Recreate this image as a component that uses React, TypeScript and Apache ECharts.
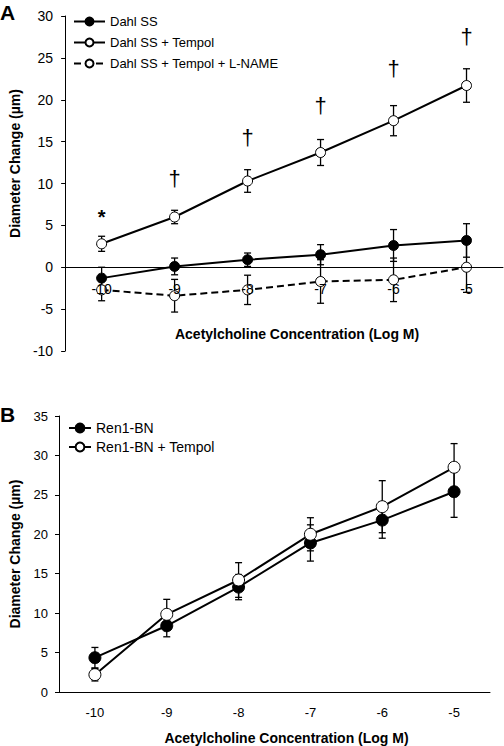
import React, { useEffect, useRef } from "react";
import * as echarts from "echarts";

const concentrations = ["-10", "-9", "-8", "-7", "-6", "-5"];

// Panel A
const dahlSS = [-1.3, 0.1, 0.9, 1.5, 2.6, 3.2];
const dahlSSErr = [1.3, 1.0, 0.8, 1.2, 1.9, 2.0];
const dahlTempol = [2.8, 6.0, 10.3, 13.7, 17.5, 21.7];
const dahlTempolErr = [0.9, 0.8, 1.35, 1.55, 1.8, 2.0];
const dahlLName = [-2.7, -3.4, -2.7, -1.7, -1.5, 0.0];
const dahlLNameErr = [1.3, 1.95, 1.75, 2.6, 2.6, 3.0];
const sigMarks = ["*", "†", "†", "†", "†", "†"];
const sigMarkY = [6.3, 10.6, 15.5, 19.3, 23.7, 27.5];

// Panel B
const ren1 = [4.35, 8.4, 13.3, 18.9, 21.8, 25.4];
const ren1Err = [1.3, 1.4, 1.6, 2.3, 2.3, 3.25];
const ren1Tempol = [2.2, 9.85, 14.2, 20.0, 23.5, 28.5];
const ren1TempolErr = [0.8, 1.9, 2.2, 2.1, 3.3, 3.0];

const FONT = 'Arial, "Liberation Sans", sans-serif';

const A_MIN = -10;
const A_MAX = 30;
const A_HEIGHT = 335;

function errData(vals: number[], errs: number[]) {
  return vals.map((v, i) => [i, v - errs[i], v + errs[i]]);
}

function errSeries(vals: number[], errs: number[], axis: number) {
  return {
    type: "custom",
    xAxisIndex: axis,
    yAxisIndex: axis,
    z: 1,
    silent: true,
    data: errData(vals, errs),
    encode: { x: 0, y: [1, 2] },
    renderItem: (params: any, api: any) => {
      const idx = api.value(0);
      const lo = api.coord([idx, api.value(1)]);
      const hi = api.coord([idx, api.value(2)]);
      const w = 3.5;
      const st = { stroke: "#000", lineWidth: 1.3 };
      return {
        type: "group",
        children: [
          { type: "line", shape: { x1: lo[0], y1: lo[1], x2: hi[0], y2: hi[1] }, style: st },
          { type: "line", shape: { x1: lo[0] - w, y1: lo[1], x2: lo[0] + w, y2: lo[1] }, style: st },
          { type: "line", shape: { x1: hi[0] - w, y1: hi[1], x2: hi[0] + w, y2: hi[1] }, style: st },
        ],
      };
    },
  };
}

function lineSeries(name: string, data: number[], axis: number, filled: boolean, dashed: boolean, size: number) {
  return {
    name,
    type: "line",
    xAxisIndex: axis,
    yAxisIndex: axis,
    data,
    z: 3,
    symbol: "circle",
    symbolSize: size,
    lineStyle: { color: "#000", width: 2, type: dashed ? [7, 4] : "solid" },
    itemStyle: { color: filled ? "#000" : "#fff", borderColor: "#000", borderWidth: 1 },
  };
}

export default function App() {
  const ref = useRef<HTMLDivElement>(null);
  useEffect(() => {
    if (!ref.current) return;
    const chart = echarts.init(ref.current, null, { renderer: "svg" });
    const axisLine = { lineStyle: { color: "#000", width: 1 } };
    const axisTick = { lineStyle: { color: "#000" }, length: 5 };
    // shift x axis of panel A up to y = 0
    const zeroOffset = -((0 - A_MIN) / (A_MAX - A_MIN)) * A_HEIGHT;
    chart.setOption({
      animation: false,
      textStyle: { fontFamily: FONT, color: "#000" },
      grid: [
        { left: 57, top: 16, width: 446, height: A_HEIGHT },
        { left: 54, top: 416, width: 436, height: 276 },
      ],
      legend: [
        {
          left: 68,
          top: 10,
          orient: "vertical",
          itemWidth: 31,
          itemHeight: 10,
          itemGap: 8,
          data: ["Dahl SS", "Dahl SS + Tempol", "Dahl SS + Tempol + L-NAME"],
          textStyle: { fontSize: 13, color: "#000", fontFamily: FONT },
        },
        {
          left: 63,
          top: 416,
          orient: "vertical",
          itemWidth: 22,
          itemHeight: 11,
          itemGap: 5,
          data: ["Ren1-BN", "Ren1-BN + Tempol"],
          textStyle: { fontSize: 14, color: "#000", fontFamily: FONT },
        },
      ],
      xAxis: [
        {
          type: "category",
          gridIndex: 0,
          data: concentrations,
          offset: zeroOffset,
          z: 10,
          axisLine: { ...axisLine, onZero: false },
          axisTick,
          axisLabel: { fontSize: 14, color: "#000", margin: 15 },
          name: "Acetylcholine Concentration (Log M)",
          nameLocation: "middle",
          nameGap: 60,
          nameTextStyle: { fontSize: 14, fontWeight: "bold", color: "#000", padding: [0, 0, 0, 26] },
        },
        {
          type: "category",
          gridIndex: 1,
          data: concentrations,
          axisLine,
          axisTick,
          axisLabel: { fontSize: 13, color: "#000", margin: 14 },
          name: "Acetylcholine Concentration (Log M)",
          nameLocation: "middle",
          nameGap: 39,
          nameTextStyle: { fontSize: 14, fontWeight: "bold", color: "#000", padding: [0, 0, 0, 24] },
        },
      ],
      yAxis: [
        {
          type: "value",
          gridIndex: 0,
          min: A_MIN,
          max: A_MAX,
          interval: 5,
          axisLine: { show: true, ...axisLine },
          axisTick: { show: true, ...axisTick, length: 4 },
          splitLine: { show: false },
          axisLabel: { fontSize: 14, color: "#000", margin: 12 },
          name: "Diameter Change (µm)",
          nameLocation: "middle",
          nameGap: 37,
          nameTextStyle: { fontSize: 14, fontWeight: "bold", color: "#000", padding: [0, 0, 0, 40] },
        },
        {
          type: "value",
          gridIndex: 1,
          min: 0,
          max: 35,
          interval: 5,
          axisLine: { show: true, ...axisLine },
          axisTick: { show: true, ...axisTick, length: 4 },
          splitLine: { show: false },
          axisLabel: { fontSize: 13, color: "#000", margin: 11 },
          name: "Diameter Change (µm)",
          nameLocation: "middle",
          nameGap: 37,
          nameTextStyle: { fontSize: 14, fontWeight: "bold", color: "#000" },
        },
      ],
      graphic: [
        { type: "text", left: 0, top: 2, style: { text: "A", font: `bold 21px ${FONT}`, fill: "#000" } },
        { type: "text", left: 0, top: 404, style: { text: "B", font: `bold 21px ${FONT}`, fill: "#000" } },
      ],
      series: [
        errSeries(dahlSS, dahlSSErr, 0),
        errSeries(dahlTempol, dahlTempolErr, 0),
        errSeries(dahlLName, dahlLNameErr, 0),
        lineSeries("Dahl SS", dahlSS, 0, true, false, 10),
        lineSeries("Dahl SS + Tempol", dahlTempol, 0, false, false, 10),
        lineSeries("Dahl SS + Tempol + L-NAME", dahlLName, 0, false, true, 10),
        {
          type: "custom",
          xAxisIndex: 0,
          yAxisIndex: 0,
          silent: true,
          z: 4,
          data: sigMarkY.map((v, i) => [i, v]),
          encode: { x: 0, y: 1 },
          renderItem: (params: any, api: any) => {
            const p = api.coord([api.value(0), api.value(1)]);
            const isStar = sigMarks[params.dataIndex] === "*";
            return {
              type: "text",
              x: p[0],
              y: p[1] + (isStar ? 3 : 0),
              style: {
                text: sigMarks[params.dataIndex],
                font: isStar ? `bold 20px ${FONT}` : `22px ${FONT}`,
                fill: "#000",
                align: "center",
                verticalAlign: "middle",
              },
            };
          },
        },
        errSeries(ren1, ren1Err, 1),
        errSeries(ren1Tempol, ren1TempolErr, 1),
        lineSeries("Ren1-BN", ren1, 1, true, false, 12),
        lineSeries("Ren1-BN + Tempol", ren1Tempol, 1, false, false, 12),
      ],
    });
    return () => chart.dispose();
  }, []);
  return <div ref={ref} style={{ position: "absolute", left: 0, top: 0, width: 504, height: 746 }} />;
}
